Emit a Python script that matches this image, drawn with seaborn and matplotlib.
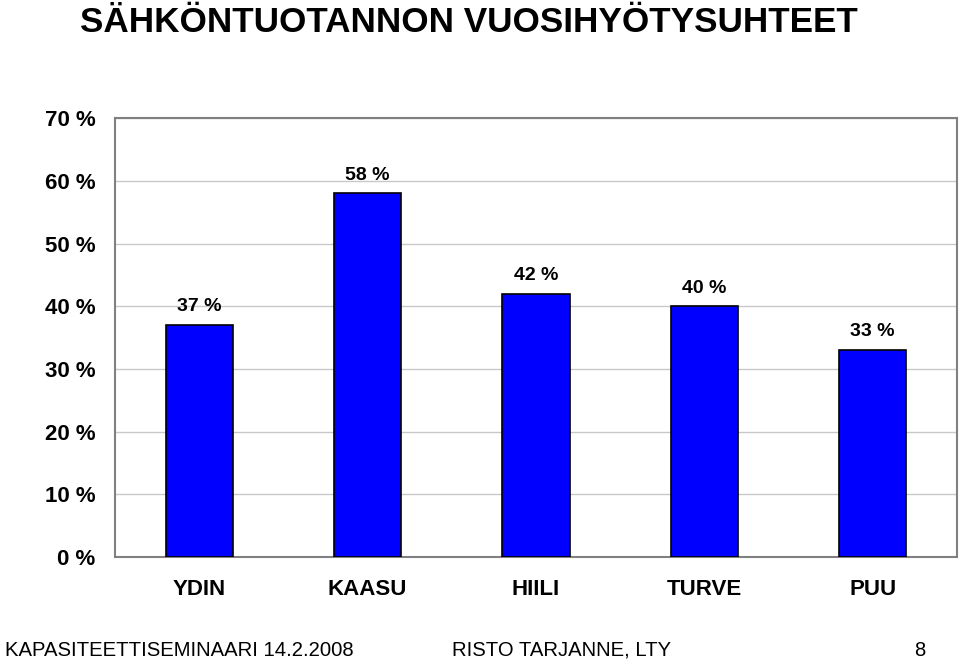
import matplotlib
matplotlib.use("Agg")
import matplotlib.pyplot as plt
import pandas as pd
import seaborn as sns
from matplotlib.ticker import FixedLocator, FuncFormatter

# data
fuels = ["YDIN", "KAASU", "HIILI", "TURVE", "PUU"]
efficiency = [37, 58, 42, 40, 33]

df = pd.DataFrame({"fuel": fuels, "eff": efficiency})

sns.set_style("white")
plt.rcParams["font.family"] = ["Liberation Sans", "DejaVu Sans"]
plt.rcParams["text.color"] = "black"
plt.rcParams["xtick.labelcolor"] = "black"
plt.rcParams["ytick.labelcolor"] = "black"

fig = plt.figure(figsize=(9.6, 6.6), dpi=100)
ax = fig.add_axes([0.1198, 0.156, 0.877, 0.665])

sns.barplot(data=df, x="fuel", y="eff", color="#0000FF", saturation=1,
            width=0.4, edgecolor="black", linewidth=1.2, ax=ax, zorder=3)

ax.set_xlim(-0.5, len(fuels) - 0.5)
ax.set_ylim(0, 70)
ax.set_yticks(range(0, 71, 10))
ax.yaxis.set_major_formatter(FuncFormatter(lambda v, p: f"{int(v)} %"))
ax.grid(axis="y", color="#c8c8c8", linewidth=1, zorder=0)
ax.set_axisbelow(True)

for s in ax.spines.values():
    s.set_color("#808080")
    s.set_linewidth(1.5)

ax.tick_params(axis="y", which="major", direction="out", length=6, width=1,
               color="#808080", pad=8, labelsize=16)
ax.tick_params(axis="x", which="major", length=0, pad=16, labelsize=16)
ax.xaxis.set_minor_locator(FixedLocator([i + 0.5 for i in range(len(fuels) - 1)]))
ax.tick_params(axis="x", which="minor", direction="out", length=5, width=1,
               color="#c0c0c0")
for lab in ax.get_xticklabels() + ax.get_yticklabels():
    lab.set_fontweight("bold")
ax.set_xlabel("")
ax.set_ylabel("")

for i, v in enumerate(efficiency):
    ax.annotate(f"{v} %", (i, v), xytext=(0, 7), textcoords="offset points",
                ha="center", va="bottom", fontsize=14, fontweight="bold")

fig.text(80 / 960, 1 - 22 / 660, "SÄHKÖNTUOTANNON VUOSIHYÖTYSUHTEET",
         fontsize=25.3, fontweight="bold", va="center", ha="left")
fig.text(5 / 960, 1 - 650 / 660, "KAPASITEETTISEMINAARI 14.2.2008",
         fontsize=14.6, va="center", ha="left")
fig.text(452 / 960, 1 - 650 / 660, "RISTO TARJANNE, LTY",
         fontsize=14.6, va="center", ha="left")
fig.text(920 / 960, 1 - 650 / 660, "8", fontsize=14.6, va="center", ha="center")

fig.savefig("out.png", dpi=100)
